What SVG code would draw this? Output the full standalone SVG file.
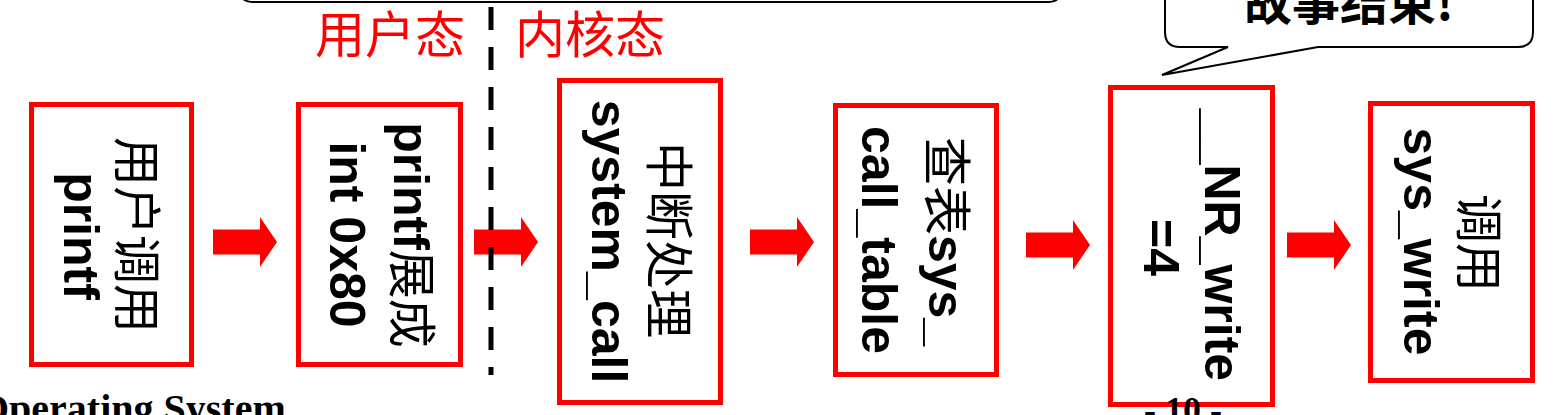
<svg xmlns="http://www.w3.org/2000/svg" xmlns:xlink="http://www.w3.org/1999/xlink" width="1564" height="415" viewBox="0 0 1564 415">
<style>
.box{fill:#fff;stroke:#ff0000;stroke-width:5}
.lat{font-family:"Liberation Sans",Arial,sans-serif;font-weight:bold;font-size:50px;fill:#000}
.cjk{font-family:"Noto Sans CJK SC",sans-serif;font-weight:normal;font-size:49px;fill:#000}
.lbl{font-family:"Noto Sans CJK SC",sans-serif;font-size:50px;fill:#ff0000}
.col{font-family:"Liberation Sans","Noto Sans CJK SC",sans-serif;text-anchor:middle}
.call{fill:#fff;stroke:#000;stroke-width:2}
.arrow{fill:#ff0000}
</style>
<defs>
<path id="arr" d="M0,-12.5 H47 V-25 L64,0 L47,25 V12.5 H0 Z"/>
</defs>
<rect width="1564" height="415" fill="#fff"/>
<g id="callout-top">
<rect class="call" x="237" y="-60" width="827" height="62" rx="15"/>
</g>
<g id="callout-end">
<path class="call" d="M1165,-40 L1165,32 Q1165,47 1180,47 L1228,47 L1162,75 L1318,47 L1518,47 Q1533,47 1533,32 L1533,-40 Z"/>
<text x="1244" y="20" style="font-family:'Noto Sans CJK SC',sans-serif;font-weight:bold;font-size:48px;fill:#000">故事结束!</text>
</g>
<g id="labels">
<text class="lbl" x="315" y="53">用户态</text>
<text class="lbl" x="515" y="53">内核态</text>
</g>
<g id="connectors">
<use xlink:href="#arr" class="arrow" transform="translate(213,242)"/>
<use xlink:href="#arr" class="arrow" transform="translate(474,242)"/>
<use xlink:href="#arr" class="arrow" transform="translate(750,242)"/>
<use xlink:href="#arr" class="arrow" transform="translate(1026,245)"/>
<use xlink:href="#arr" class="arrow" transform="translate(1287,245)"/>
</g>
<g id="divider">
<line x1="491" y1="7" x2="491" y2="375" stroke="#000" stroke-width="5" stroke-dasharray="23 17"/>
</g>
<g id="node1">
<rect class="box" x="31.5" y="104.5" width="160" height="260"/>
<text class="col" transform="translate(119,235) rotate(90)"><tspan class="cjk">用户调用</tspan></text>
<text class="col" transform="translate(64,236) rotate(90)"><tspan class="lat">printf</tspan></text>
</g>
<g id="node2">
<rect class="box" x="298.5" y="104.5" width="162" height="260"/>
<text class="col" transform="translate(394,235) rotate(90)"><tspan class="lat">printf</tspan><tspan class="cjk">展成</tspan></text>
<text class="col" transform="translate(330,234.5) rotate(90)"><tspan class="lat">int 0x80</tspan></text>
</g>
<g id="node3">
<rect class="box" x="559.5" y="80.5" width="161" height="322"/>
<text class="col" transform="translate(651,240) rotate(90)"><tspan class="cjk">中断处理</tspan></text>
<text class="col" transform="translate(592,241.5) rotate(90)"><tspan class="lat">system_call</tspan></text>
</g>
<g id="node4">
<rect class="box" x="835.5" y="105.5" width="161" height="269"/>
<text class="col" transform="translate(929,241.5) rotate(90)"><tspan class="cjk">查表</tspan><tspan class="lat">sys_</tspan></text>
<text class="col" transform="translate(862,240) rotate(90)"><tspan class="lat">call_table</tspan></text>
</g>
<g id="node5">
<rect class="box" x="1110.5" y="87.5" width="162" height="317"/>
<text class="col" transform="translate(1205,245) rotate(90)"><tspan class="lat">__NR_write</tspan></text>
<text class="col" transform="translate(1144,247.5) rotate(90)"><tspan class="lat">=4</tspan></text>
</g>
<g id="node6">
<rect class="box" x="1370.5" y="103.5" width="162" height="277"/>
<text class="col" transform="translate(1461,243) rotate(90)"><tspan class="cjk">调用</tspan></text>
<text class="col" transform="translate(1404,241.5) rotate(90)"><tspan class="lat">sys_write</tspan></text>
</g>
<g id="footer">
<text x="-22" y="422" style="font-family:'Liberation Serif','Times New Roman',serif;font-weight:bold;font-size:40px;fill:#000">Operating System</text>
<text x="1183" y="422" text-anchor="middle" style="font-family:'Liberation Serif','Times New Roman',serif;font-weight:bold;font-size:36px;fill:#000">- 10 -</text>
</g>
</svg>
